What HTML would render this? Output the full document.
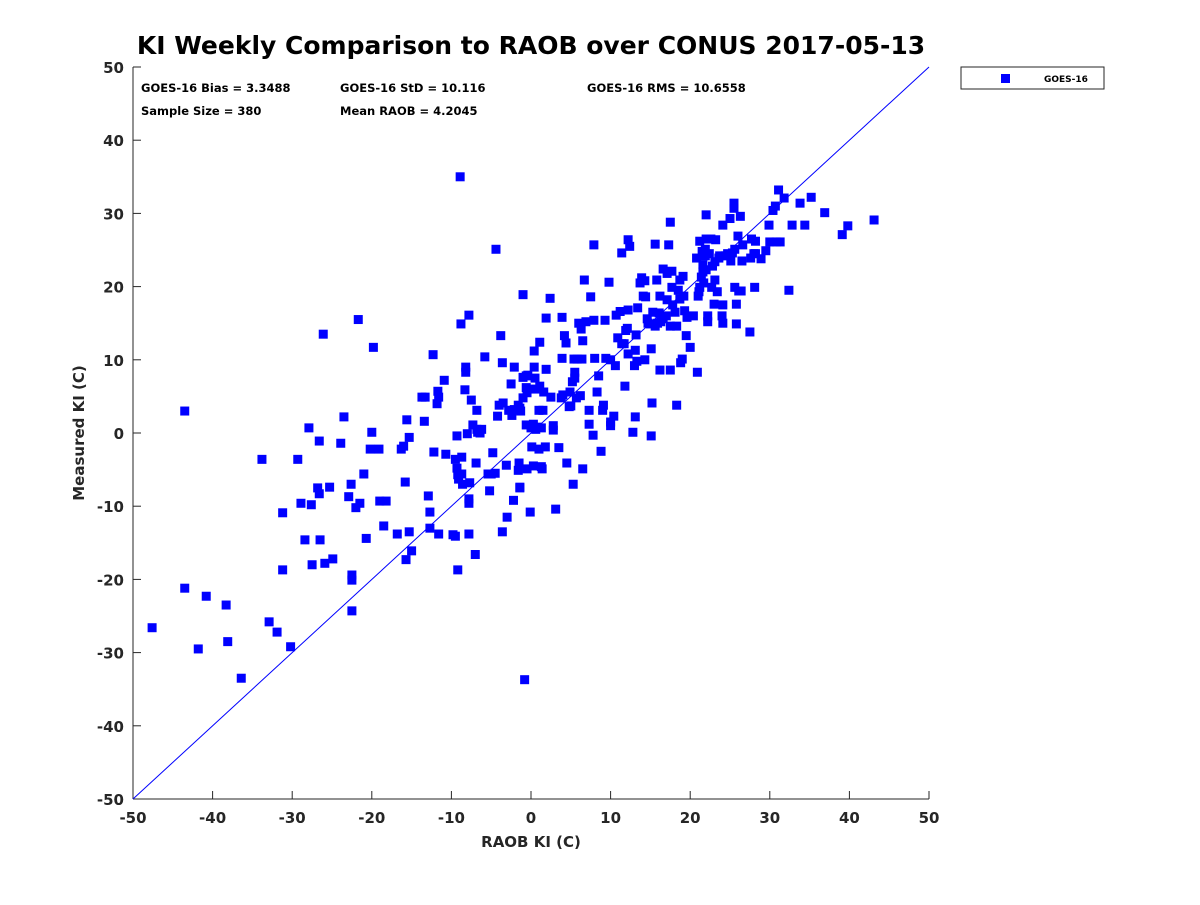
<!DOCTYPE html>
<html><head><meta charset="utf-8"><style>
body{margin:0;background:#fff;}
svg text{font-family:"DejaVu Sans","Liberation Sans",sans-serif;font-weight:bold;fill:#262626;}
</style></head><body>
<svg id="chart" width="1200" height="900" xmlns="http://www.w3.org/2000/svg">
<rect width="1200" height="900" fill="#fff"/>
<text x="531" y="54" font-size="25" text-anchor="middle" style="fill:#000">KI Weekly Comparison to RAOB over CONUS 2017-05-13</text>
<g id="axes"></g>
<g id="marks"></g>
<g font-size="11.5">
<text x="141" y="92" style="fill:#000">GOES-16 Bias = 3.3488</text>
<text x="340" y="92" style="fill:#000">GOES-16 StD = 10.116</text>
<text x="587" y="92" style="fill:#000">GOES-16 RMS = 10.6558</text>
<text x="141" y="115" style="fill:#000">Sample Size = 380</text>
<text x="340" y="115" style="fill:#000">Mean RAOB = 4.2045</text>
</g>
<g>
<rect x="961" y="67" width="143" height="22" fill="#fff" stroke="#262626" stroke-width="1"/>
<rect x="1001" y="74" width="9" height="9" fill="#0000ff"/>
<text x="1044" y="82" font-size="9" style="fill:#000">GOES-16</text>
</g>
<text x="531" y="847" font-size="15" text-anchor="middle">RAOB KI (C)</text>
<text transform="translate(84,433) rotate(-90)" font-size="15" text-anchor="middle">Measured KI (C)</text>
</svg>
<script>
const xTicks=[-50,-40,-30,-20,-10,0,10,20,30,40,50];
const yTicks=[-50,-40,-30,-20,-10,0,10,20,30,40,50];
const raob=[-47.6,-43.5,-43.5,-41.8,-40.8,-38.3,-38.1,-36.4,-33.8,-32.9,-31.9,-31.2,-31.2,-30.2,-29.3,-28.9,-28.4,-27.9,-27.6,-27.5,-26.8,-26.6,-26.6,-26.5,-26.1,-25.9,-25.3,-24.9,-23.9,-23.5,-22.9,-22.6,-22.5,-22.5,-22.5,-22.0,-21.7,-21.5,-21.0,-20.7,-20.2,-20.0,-19.8,-19.1,-19.0,-18.5,-18.2,-16.8,-16.3,-16.0,-15.8,-15.7,-15.6,-15.3,-15.3,-15.0,-13.7,-13.4,-13.3,-12.9,-12.7,-12.7,-12.3,-12.2,-11.8,-11.7,-11.6,-11.6,-10.9,-10.7,-9.8,-9.5,-9.5,-9.3,-9.3,-9.2,-9.2,-9.1,-8.9,-8.8,-8.7,-8.7,-8.6,-8.3,-8.2,-8.2,-8.0,-7.8,-7.8,-7.8,-7.8,-7.7,-7.5,-7.3,-7.0,-6.9,-6.8,-6.8,-6.7,-6.4,-6.2,-5.8,-5.4,-5.2,-5.0,-4.8,-4.5,-4.4,-4.2,-4.0,-3.8,-3.6,-3.6,-3.5,-3.1,-3.0,-2.8,-2.5,-2.4,-2.2,-2.1,-2.1,-1.6,-1.6,-1.5,-1.4,-1.4,-1.4,-1.3,-1.0,-1.0,-1.0,-0.8,-0.6,-0.6,-0.6,-0.5,-0.5,-0.4,-0.1,0.0,0.1,0.3,0.3,0.4,0.4,0.5,0.5,0.6,0.8,1.0,1.0,1.1,1.1,1.3,1.3,1.4,1.5,1.6,1.8,1.9,1.9,2.4,2.5,2.8,2.8,3.1,3.5,3.8,3.9,3.9,4.0,4.2,4.4,4.5,4.8,4.9,5.0,5.2,5.3,5.4,5.5,5.5,5.7,5.8,6.0,6.2,6.3,6.4,6.5,6.5,6.7,6.9,7.3,7.3,7.5,7.8,7.9,7.9,8.0,8.3,8.5,8.8,9.0,9.1,9.3,9.4,9.8,10.0,10.0,10.0,10.4,10.6,10.7,10.9,11.2,11.4,11.4,11.7,11.8,11.9,12.1,12.2,12.2,12.2,12.4,12.8,13.0,13.1,13.1,13.2,13.3,13.4,13.7,13.9,14.1,14.3,14.3,14.4,14.6,14.7,15.0,15.1,15.1,15.2,15.3,15.6,15.6,15.8,15.9,16.1,16.2,16.2,16.3,16.6,16.6,17.0,17.1,17.1,17.3,17.5,17.5,17.5,17.7,17.7,17.8,18.1,18.3,18.3,18.5,18.7,18.7,18.8,19.0,19.1,19.2,19.3,19.5,19.6,20.0,20.4,20.8,20.9,21.0,21.1,21.2,21.2,21.4,21.5,21.6,21.6,21.7,21.9,22.0,22.0,22.0,22.2,22.2,22.4,22.6,22.7,22.8,23.0,23.1,23.1,23.2,23.4,23.6,23.7,24.0,24.1,24.1,24.1,24.4,24.7,25.0,25.1,25.3,25.5,25.5,25.6,25.6,25.8,25.8,26.0,26.1,26.3,26.4,26.5,26.6,27.5,27.6,27.7,28.0,28.1,28.2,28.2,28.9,29.5,29.9,30.0,30.4,30.7,30.8,31.1,31.3,31.8,32.4,32.8,33.8,34.4,35.2,36.9,39.1,39.8,43.1,21.9];
const measured=[-26.6,3.0,-21.2,-29.5,-22.3,-23.5,-28.5,-33.5,-3.6,-25.8,-27.2,-18.7,-10.9,-29.2,-3.6,-9.6,-14.6,0.7,-9.8,-18.0,-7.5,-8.3,-1.1,-14.6,13.5,-17.8,-7.4,-17.2,-1.4,2.2,-8.7,-7.0,-19.4,-20.1,-24.3,-10.2,15.5,-9.6,-5.6,-14.4,-2.2,0.1,11.7,-2.2,-9.3,-12.7,-9.3,-13.8,-2.2,-1.8,-6.7,-17.3,1.8,-13.5,-0.6,-16.1,4.9,1.6,4.9,-8.6,-10.8,-13.0,10.7,-2.6,4.0,5.7,-13.8,4.9,7.2,-2.9,-13.9,-14.1,-3.6,-0.4,-4.8,-5.7,-18.7,-6.3,35.0,14.9,-3.3,-5.6,-7.0,5.9,9.0,8.3,-0.1,-9.0,-9.6,-13.8,16.1,-6.8,4.5,1.1,-16.6,-4.1,0.5,3.1,0.1,0.0,0.5,10.4,-5.6,-7.9,-5.6,-2.7,-5.5,25.1,2.3,3.8,13.3,9.6,-13.5,4.1,-4.4,-11.5,3.1,6.7,2.4,-9.2,9.0,3.2,3.8,-5.1,-4.1,-7.4,3.4,-7.5,3.0,7.6,18.9,4.8,-33.7,6.2,1.1,7.8,5.5,-4.9,7.9,-10.8,0.7,-1.9,1.2,-4.5,11.2,9.0,7.5,6.0,0.5,0.8,3.1,-2.2,6.4,12.4,-4.6,0.7,-4.9,3.1,5.6,-1.9,15.7,8.7,18.4,4.9,0.4,1.0,-10.4,-2.0,4.8,10.2,15.8,5.2,13.3,12.3,-4.1,3.6,5.6,3.7,7.0,-7.0,10.1,8.3,7.5,4.8,10.1,15.0,5.1,14.2,10.1,12.6,-4.9,20.9,15.2,3.1,1.2,18.6,-0.3,25.7,15.4,10.2,5.6,7.8,-2.5,3.1,3.8,15.4,10.2,20.6,1.0,1.5,10.0,2.3,9.2,16.1,13.0,16.6,12.2,24.6,12.2,6.4,14.0,14.3,16.8,26.4,10.8,25.5,0.1,9.2,11.3,2.2,13.4,9.8,17.1,20.5,21.2,18.7,20.8,10.0,18.6,15.6,15.0,14.9,-0.4,11.5,4.1,16.5,25.8,14.6,20.9,15.0,16.4,18.7,8.6,15.2,22.4,15.6,16.0,21.8,18.2,25.7,28.8,14.6,8.6,22.1,19.9,17.5,16.5,3.8,14.6,19.5,20.9,18.3,9.6,10.1,21.4,18.7,16.7,13.3,15.8,11.7,16.0,23.9,8.3,18.7,19.3,26.2,19.9,21.3,24.8,22.0,23.0,20.5,24.2,29.8,26.5,22.3,15.2,16.0,24.5,26.5,19.9,22.8,17.6,23.4,20.9,26.4,19.3,23.9,24.2,16.0,28.4,17.5,15.0,24.2,24.5,29.3,23.5,24.6,31.4,30.7,25.1,19.9,17.6,14.9,26.9,19.4,29.6,19.4,23.5,25.7,13.8,23.9,26.5,24.5,19.9,24.5,26.2,23.8,24.9,28.4,26.1,30.4,31.0,26.1,33.2,26.1,32.1,19.5,28.4,31.4,28.4,32.2,30.1,27.1,28.3,29.1,25.1];

const NS='http://www.w3.org/2000/svg';
const L=133,R=929,T=67,B=799;
const xMin=-50,xMax=50,yMin=-50,yMax=50;
function sx(v){return L+(v-xMin)/(xMax-xMin)*(R-L);}
function sy(v){return B-(v-yMin)/(yMax-yMin)*(B-T);}
function mk(tag,attrs,parent){const e=document.createElementNS(NS,tag);for(const k in attrs)e.setAttribute(k,attrs[k]);parent.appendChild(e);return e;}
const axes=document.getElementById('axes');
const marks=document.getElementById('marks');

const yAxis=mk('line',{x1:L,y1:T,x2:L,y2:B,stroke:'#262626','stroke-width':1},axes);


const xAxis=mk('line',{x1:L,y1:B,x2:R,y2:B,stroke:'#262626','stroke-width':1},axes);



xTicks.forEach(v=>{
  const t=mk('line',{x1:sx(v),y1:B,x2:sx(v),y2:B-8,stroke:'#262626','stroke-width':1},axes);
  
  
  const lb=mk('text',{x:sx(v),y:B+24,'font-size':15,'text-anchor':'middle'},axes);
  lb.textContent=v;
  
  
});
yTicks.forEach(v=>{
  const t=mk('line',{x1:L,y1:sy(v),x2:L+8,y2:sy(v),stroke:'#262626','stroke-width':1},axes);
  
  
  const lb=mk('text',{x:L-9,y:sy(v)+6,'font-size':15,'text-anchor':'end'},axes);
  lb.textContent=v;
  
  
});
const diag=mk('line',{x1:sx(-50),y1:sy(-50),x2:sx(50),y2:sy(50),stroke:'#0000ff','stroke-width':1},axes);



const S=9;
raob.forEach((x,i)=>{
  const r=mk('rect',{x:sx(x)-S/2,y:sy(measured[i])-S/2,width:S,height:S,fill:'#0000ff'},marks);
  
  
});
</script>
</body></html>
